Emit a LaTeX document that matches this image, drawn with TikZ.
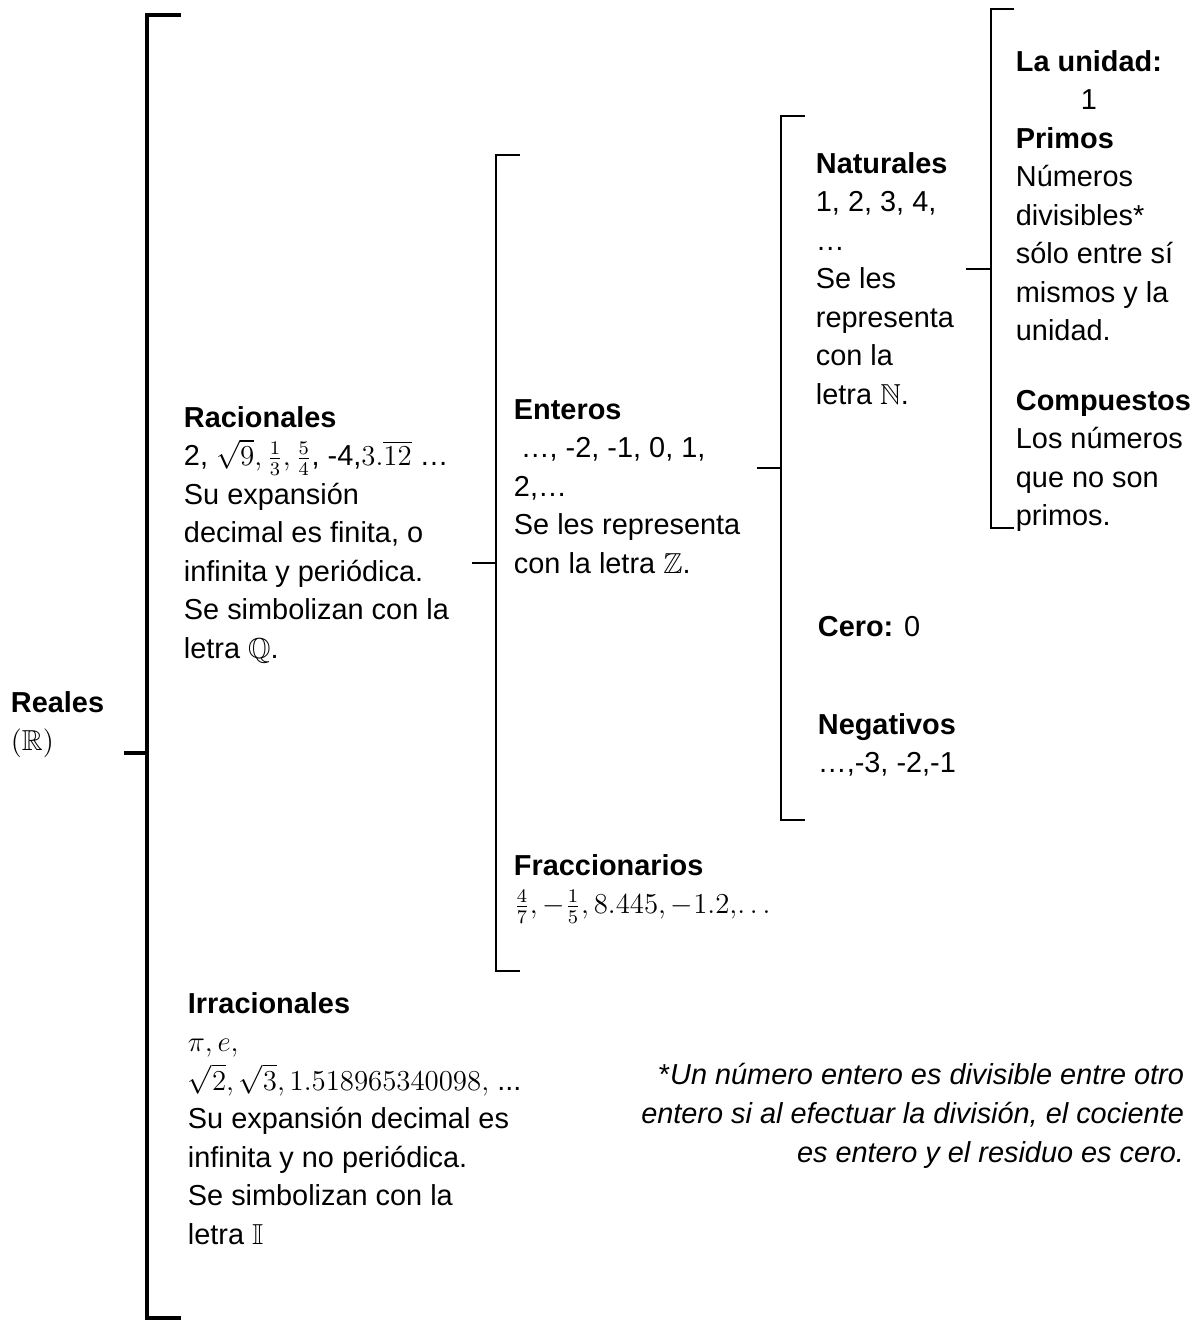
\documentclass[tikz,border=0pt]{standalone}
\usepackage{amsmath}
\usepackage{amssymb}
\usepackage[no-math]{fontspec}
\setmainfont{Liberation Sans}
\usepackage{tikz}
\newcommand{\bloque}[2][l]{\begin{tabular}[t]{@{}#1@{}}#2\end{tabular}}

\begin{document}
\begin{tikzpicture}[line width=0.8pt,
  txt/.style={anchor=base west, inner sep=0pt, font=\fontsize{12}{16}\selectfont},
  bigbar/.style={line width=1.3pt}]
  \useasboundingbox (0,0) rectangle (17.40,19.39);
  \draw[bigbar] (2.643,19.170) -- (2.146,19.170) -- (2.146,0.146) -- (2.643,0.146);
  \draw[bigbar] (1.810,8.395) -- (2.146,8.395);
  \draw (7.592,17.126) -- (7.242,17.126) -- (7.242,5.212) -- (7.592,5.212);
  \draw (6.891,11.169) -- (7.242,11.169);
  \draw (11.753,17.695) -- (11.403,17.695) -- (11.403,7.417) -- (11.753,7.417);
  \draw (11.052,12.556) -- (11.403,12.556);
  \draw (14.804,19.257) -- (14.469,19.257) -- (14.469,11.680) -- (14.804,11.680);
  \draw (14.104,15.461) -- (14.469,15.461);
  \node[txt] (reales) at (0.146,8.994) {\bloque{\textbf{Reales}\\$(\mathbb{R})$}};
  \node[txt] (racionales) at (2.672,13.155)
        {\bloque{\textbf{Racionales}\\2, $\sqrt{9},\frac{1}{3},\frac{5}{4}$, -4,$3.\overline{12}$ …\\Su expansión\\decimal es finita, o\\infinita y periódica.\\Se simbolizan con la\\letra $\mathbb{Q}$.}};
  \node[txt] (irracionales) at (2.730,4.599)
        {\bloque{\textbf{Irracionales}\\$\pi,e,$\\$\sqrt{2},\sqrt{3},1.518965340098,$ ...\\Su expansión decimal es\\infinita y no periódica.\\Se simbolizan con la\\letra $\mathbb{I}$}};
  \node[txt] (enteros) at (7.490,13.271)
        {\bloque{\textbf{Enteros}\\\hspace*{0.1cm}…, -2, -1, 0, 1,\\2,…\\Se les representa\\con la letra $\mathbb{Z}$.}};
  \node[txt] (fraccionarios) at (7.490,6.614)
        {\bloque{\textbf{Fraccionarios}\\$\frac{4}{7},-\frac{1}{5},8.445,-1.2,\!\ldots$}};
  \node[txt] (naturales) at (11.899,16.863)
        {\bloque{\textbf{Naturales}\\1, 2, 3, 4,\\…\\Se les\\representa\\con la\\letra $\mathbb{N}$.}};
  \node[txt] (cero) at (11.928,10.103) {\textbf{Cero:} 0};
  \node[txt] (negativos) at (11.928,8.672) {\bloque{\textbf{Negativos}\\…,-3, -2,-1}};
  \node[txt] (unidad) at (14.819,18.352)
        {\bloque{\textbf{La unidad:}\\\hspace*{0.95cm}1\\\textbf{Primos}\\Números\\divisibles*\\sólo entre sí\\mismos y la\\unidad.\\[0.45cm]\textbf{Compuestos}\\Los números\\que no son\\primos.}};
  \node[txt, anchor=base east, font=\fontsize{12}{16}\selectfont\itshape] (nota) at (17.301,3.548)
        {\bloque[r]{{\upshape*}Un número entero es divisible entre otro\\entero si al efectuar la división, el cociente\\es entero y el residuo es cero.}};
\end{tikzpicture}
\end{document}
